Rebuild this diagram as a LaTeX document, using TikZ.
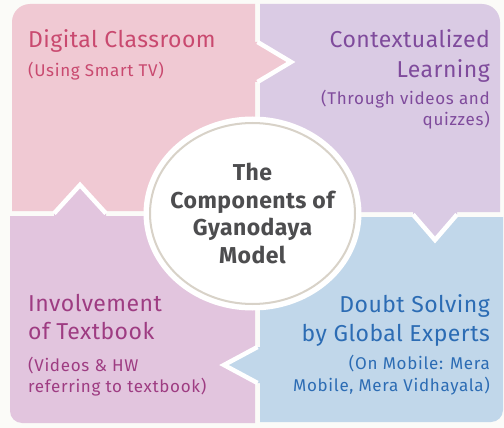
\documentclass[tikz,border=0pt]{standalone}
\usepackage{fontspec}
\setmainfont{Fira Sans}
\newfontfamily\headfont[LetterSpace=2]{Fira Sans}
\newfontfamily\subfont[LetterSpace=4]{Fira Sans}
\usetikzlibrary{shapes.geometric}

\definecolor{bgpaper}{HTML}{FBFBF8}
\definecolor{pinkpanel}{HTML}{F0C9D3}
\definecolor{lilacpanel}{HTML}{DACBE4}
\definecolor{mauvepanel}{HTML}{E2C5DE}
\definecolor{bluepanel}{HTML}{C1D7EA}
\definecolor{pinktext}{HTML}{C9496F}
\definecolor{lilactext}{HTML}{7F4B9C}
\definecolor{mauvetext}{HTML}{9E3C82}
\definecolor{bluetext}{HTML}{2C6CB4}
\definecolor{hubring}{HTML}{D8D2C8}
\definecolor{hubtext}{HTML}{4D4D4F}

\tikzset{
	headline/.style={font=\headfont\fontsize{23}{27}\selectfont, inner sep=0pt},
	subline/.style={font=\subfont\fontsize{17}{20}\selectfont, inner sep=0pt},
	notch/.style={white, line width=4.5pt, line join=miter}
}

\begin{document}
\begin{tikzpicture}[x=1pt, y=-1pt]
	\useasboundingbox (0,0) rectangle (504,428);
	\fill[bgpaper] (0,0) rectangle (504,428);
	
	%four panels
	\fill[pinkpanel] (255,211) -- (12,211) -- (12,22) arc[start angle=180, end angle=270, radius=18] -- (255,4) -- cycle;
	\fill[lilacpanel] (260,4) -- (482,4) arc[start angle=270, end angle=360, radius=18] -- (500,212) -- (260,212) -- cycle;
	\fill[mauvepanel] (10,216) -- (255,216) -- (255,423) -- (22,423) arc[start angle=90, end angle=180, radius=12] -- cycle;
	\fill[bluepanel] (260,217) -- (503,217) -- (503,410) arc[start angle=0, end angle=90, radius=12] -- (260,422) -- cycle;
	
	%pointers between the panels
	\fill[pinkpanel] (250,42) -- (257.5,42) -- (291,62) -- (257.5,82) -- (250,82) -- cycle;
	\draw[notch] (257.5,42) -- (291,62) -- (257.5,82);
	\fill[lilacpanel] (413,208) -- (413,214.5) -- (435,240) -- (457,214.5) -- (457,208) -- cycle;
	\draw[notch] (413,214.5) -- (435,240) -- (457,214.5);
	\fill[bluepanel] (264,347) -- (257.5,347) -- (224,365) -- (257.5,383) -- (264,383) -- cycle;
	\draw[notch] (257.5,347) -- (224,365) -- (257.5,383);
	\fill[mauvepanel] (54,220) -- (54,213.5) -- (80,185) -- (106,213.5) -- (106,220) -- cycle;
	\draw[notch] (54,213.5) -- (80,185) -- (106,213.5);
	
	%centre
	\fill[white] (252.5,213.5) ellipse[x radius=109, y radius=97];
	\node[ellipse, draw=hubring, line width=2pt, fill=white, inner sep=0pt,
		minimum width=205pt, minimum height=181pt] (hub) at (252.5,213.5) {};
	\node[align=center, text=hubtext, inner sep=0pt,
		font=\headfont\fontsize{23}{27.7}\selectfont\bfseries] (hubtitle) at (hub.center)
		{The\\Components of\\Gyanodaya\\Model};
	
	%texts
	\node[headline, text=pinktext, anchor=base west] (dc1) at (28,48) {Digital Classroom};
	\node[subline, text=pinktext, anchor=base west] (dc2) at (28,77) {(Using Smart TV)};
	
	\node[headline, text=lilactext, anchor=base east] (cl1) at (490,48) {Contextualized};
	\node[headline, text=lilactext, anchor=base east] (cl2) at (490,78) {Learning};
	\node[subline, text=lilactext, anchor=base east] (cl3) at (490,105) {(Through videos and};
	\node[subline, text=lilactext, anchor=base east] (cl4) at (490,125) {quizzes)};
	
	\node[headline, text=mauvetext, anchor=base west] (it1) at (28,311) {Involvement};
	\node[headline, text=mauvetext, anchor=base west] (it2) at (28,339) {of Textbook};
	\node[subline, text=mauvetext, anchor=base west] (it3) at (28,371) {(Videos \& HW};
	\node[subline, text=mauvetext, anchor=base west] (it4) at (28,392) {referring to textbook)};
	
	\node[headline, text=bluetext, anchor=base east] (ds1) at (490,312) {Doubt Solving};
	\node[headline, text=bluetext, anchor=base east] (ds2) at (490,341) {by Global Experts};
	\node[subline, text=bluetext, anchor=base east] (ds3) at (490,369) {(On Mobile: Mera};
	\node[subline, text=bluetext, anchor=base east] (ds4) at (490,391) {Mobile, Mera Vidhayala)};
\end{tikzpicture}
\end{document}
